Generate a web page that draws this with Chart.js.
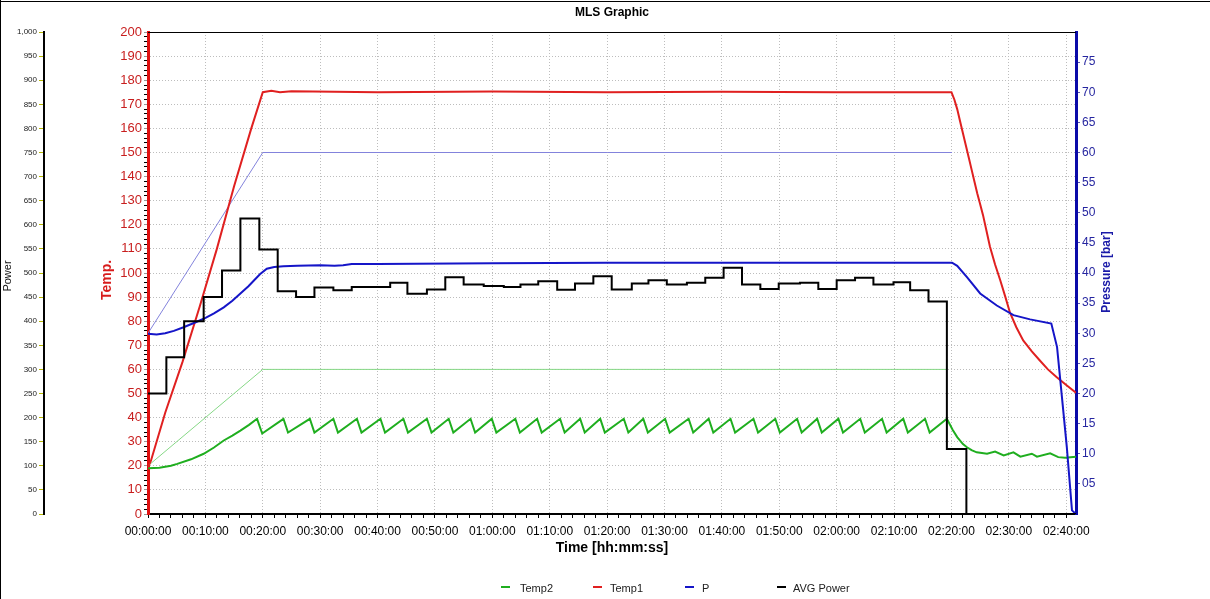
<!DOCTYPE html>
<html>
<head>
<meta charset="utf-8">
<title>MLS Graphic</title>
<script src="https://cdn.jsdelivr.net/npm/chart.js@4.4.1/dist/chart.umd.min.js"></script>
<style>
    body { margin: 0; background: #fff; }
    #wrap { position: relative; width: 1210px; height: 599px; }
    #legend { position: absolute; left: 0; top: 580px; width: 1210px; height: 16px;
        font: 11px "Liberation Sans", Arial, sans-serif; color: #222; }
    .item { position: absolute; top: 0; height: 16px; line-height: 16px; white-space: nowrap; }
    .item i { position: absolute; top: 6px; left: 0; width: 9px; height: 2px; }
</style>
</head>
<body>
<div id="wrap">
    <canvas id="mls" width="1210" height="599"></canvas>
    <div id="legend"></div>
</div>
<script>
// time axis in minutes
const X_MAX = 161.7;

// Temp1 (°C)
const temp1Minutes = [0, 0.5, 3, 6, 9, 12, 15, 18, 20, 21.5, 23, 25, 40, 60, 80, 100, 120, 140,
    140.5, 141, 141.5, 142, 142.5, 143, 143.5, 144, 144.5, 145, 145.5, 146.1, 146.7, 147.6, 148.5,
    149.4, 150.2, 151.3, 152.5, 154, 155.4, 156.8, 158.3, 160, 161.7];
const temp1Values = [19.5, 22, 42, 63, 86, 110, 136, 160, 175, 175.6, 175, 175.4, 175, 175.3, 175, 175.2, 175, 175,
    172, 168, 163, 158, 153, 148, 143, 138, 133, 128.5, 124, 117.5, 111, 103.5, 97,
    90, 83.5, 77.5, 72, 67.5, 63.7, 60, 56.8, 53.5, 50.3];

// Temp2 (°C)
const temp2Minutes = [0, 2, 4, 5.1, 7.5, 9.7, 11.5, 13.2, 14.7, 16.1, 17.6, 19.0, 19.9,
    23.6, 24.4, 28.2, 29.0, 32.3, 33.1, 36.4, 37.2, 40.5, 41.3, 44.5, 45.3, 48.6, 49.4,
    52.4, 53.2, 56.2, 57.0, 59.9, 60.7, 64.0, 64.8, 67.8, 68.6, 71.8, 72.6, 75.3, 76.1,
    78.8, 79.6, 82.9, 83.7, 86.3, 87.1, 90.1, 90.9, 94.2, 95.0, 97.7, 98.5, 101.5, 102.3,
    105.5, 106.3, 109.3, 110.1, 113.1, 113.9, 116.6, 117.4, 120.3, 121.1, 124.1, 124.9,
    127.9, 128.7, 131.6, 132.4, 135.4, 136.2, 139.2,
    140.2, 141, 142, 142.7, 143.5, 144.4, 146.2, 147.6, 149.1, 150.8, 152, 154, 154.9,
    157.2, 158.6, 159.8, 161.7];
const temp2Values = [19, 19.2, 20, 20.8, 22.7, 25, 27.6, 30.5, 32.5, 34.6, 37, 39.5, 33.4,
    39.5, 33.8, 39.5, 33.8, 39.5, 33.8, 39.5, 33.8, 39.5, 33.8, 39.5, 33.8, 39.5, 33.8,
    39.5, 33.8, 39.5, 33.8, 39.5, 33.8, 39.5, 33.8, 39.5, 33.8, 39.5, 33.8, 39.5, 33.8,
    39.5, 33.8, 39.5, 33.8, 39.5, 33.8, 39.5, 33.8, 39.5, 33.8, 39.5, 33.8, 39.5, 33.8,
    39.5, 33.8, 39.5, 33.8, 39.5, 33.8, 39.5, 33.8, 39.5, 33.8, 39.5, 33.8,
    39.5, 33.8, 39.5, 33.8, 39.5, 33.8, 39.5,
    35, 31.9, 29, 27.7, 26.5, 25.6, 25, 25.9, 24.3, 25.6, 23.8, 25, 23.8,
    25.2, 23.6, 23.3, 23.8];

// P (bar)
const pressureMinutes = [0, 1.5, 3, 4.5, 6.2, 8, 9.7, 11.5, 13.2, 14.7, 16.1, 17.5, 18.5, 19.5, 20.7, 22,
    23.6, 26, 30, 32.5, 34, 35.5, 40, 60, 80, 100, 120, 140.1, 141, 142.7, 145, 147.9, 150.8,
    153.7, 157.4, 158.4, 160.1, 161, 161.7];
const pressureValues = [29.9, 29.8, 30, 30.4, 31, 31.7, 32.4, 33.3, 34.3, 35.4, 36.6, 37.8, 38.8, 39.8, 40.7, 41,
    41.1, 41.2, 41.3, 41.2, 41.3, 41.5, 41.5, 41.6, 41.7, 41.7, 41.7, 41.7, 41.2, 39.3, 36.6, 34.6, 33,
    32.3, 31.6, 27.7, 11.1, 0.6, 0];

// AVG Power (W): each entry is the time a new level starts
const powerMinutes = [0, 3.2, 6.3, 9.7, 12.9, 16.1, 19.4, 22.6, 25.8, 29.0, 32.3, 35.5, 42.2, 45.2,
    48.6, 51.8, 55.0, 58.5, 62.0, 64.9, 68.0, 71.3, 74.4, 77.6, 80.8, 84.3, 87.2, 90.4, 93.9,
    97.1, 100.3, 103.5, 106.7, 109.9, 113.6, 116.8, 120.0, 123.2, 126.4, 129.9, 132.8, 136.0,
    139.2, 142.6, 161.7];
const powerValues = [250, 325, 400, 450, 505, 613, 549, 462, 450, 470, 464, 471, 480, 457,
    466, 491, 476, 473, 471, 476, 483, 465, 478, 493, 466, 478, 485, 476, 480,
    490, 511, 476, 467, 478, 480, 467, 485, 490, 476, 481, 464, 441,
    135, 0, 0];

// set point ramps
const pressureSetMinutes = [0, 20, 140.1];
const pressureSetValues = [30, 60, 60];
const tempSetMinutes = [0, 20, 139.2];
const tempSetValues = [20, 60, 60];

const legendItems = [
    { label: "Temp2", color: "#1fae1f", marker: 501, text: 520 },
    { label: "Temp1", color: "#e02020", marker: 593, text: 610 },
    { label: "P", color: "#1515c8", marker: 685, text: 702 },
    { label: "AVG Power", color: "#000000", marker: 777, text: 793 }
];

const FONT = "'Liberation Sans', Arial, sans-serif";
const GRID_COLOR = "#bdbdbd";

function toPoints(xs, ys) {
    return xs.map((x, i) => ({ x, y: ys[i] }));
}

function pad2(n) {
    return String(n).padStart(2, "0");
}

function clockLabel(minutes) {
    const h = Math.floor(minutes / 60);
    const m = Math.round(minutes - h * 60);
    return `${pad2(h)}:${pad2(m)}:00`;
}

function isMultiple(value, step) {
    return Math.abs(value / step - Math.round(value / step)) < 1e-6;
}

// frame, plot top edge and rotated axis titles
const decorations = {
    id: "decorations",
    afterDraw(chart) {
        const { ctx, chartArea } = chart;

        ctx.save();
        ctx.fillStyle = "#000";
        ctx.fillRect(0, 1, chart.width, 1);
        ctx.fillRect(0, 0, 1, chart.height);

        ctx.strokeStyle = "#000";
        ctx.lineWidth = 1;
        ctx.beginPath();
        ctx.moveTo(chartArea.left, chartArea.top + 0.5);
        ctx.lineTo(chartArea.right, chartArea.top + 0.5);
        ctx.stroke();

        ctx.textAlign = "center";
        ctx.textBaseline = "middle";
        ctx.font = `bold 12px ${FONT}`;
        ctx.fillText("MLS Graphic", (chartArea.left + chartArea.right) / 2, 13);

        const vertical = (text, x, y, font, color) => {
            ctx.save();
            ctx.translate(x, y);
            ctx.rotate(-Math.PI / 2);
            ctx.font = font;
            ctx.fillStyle = color;
            ctx.fillText(text, 0, 0);
            ctx.restore();
        };

        vertical("Power", 8, 276, `11px ${FONT}`, "#111");
        vertical("Temp.", 107, 280, `bold 14px ${FONT}`, "#d81c1c");
        vertical("Pressure [bar]", 1107, 272, `bold 12px ${FONT}`, "#1a1aa8");
        ctx.restore();
    }
};

function lineSet(label, xs, ys, axis, color, width) {
    return {
        label,
        data: toPoints(xs, ys),
        yAxisID: axis,
        borderColor: color,
        backgroundColor: color,
        borderWidth: width,
        pointRadius: 0,
        fill: false
    };
}

const powerSet = lineSet("AVG Power", powerMinutes, powerValues, "power", "#000000", 2);
powerSet.stepped = "before";

const datasets = [
    powerSet,
    lineSet("P", pressureMinutes, pressureValues, "pressure", "#1515c8", 2),
    lineSet("Temp1", temp1Minutes, temp1Values, "temp", "#e02020", 2),
    lineSet("Temp2", temp2Minutes, temp2Values, "temp", "#1fae1f", 2),
    lineSet("P set", pressureSetMinutes, pressureSetValues, "pressure", "#8383dc", 1),
    lineSet("Temp set", tempSetMinutes, tempSetValues, "temp", "#86d886", 1)
];

const chart = new Chart(document.getElementById("mls"), {
    type: "line",
    data: { datasets },
    plugins: [decorations],
    options: {
        responsive: false,
        animation: false,
        events: [],
        layout: { padding: { top: 32, left: 0, right: 0, bottom: 0 } },
        elements: { line: { tension: 0 } },
        plugins: {
            legend: { display: false },
            title: { display: false },
            tooltip: { enabled: false }
        },
        scales: {
            x: {
                type: "linear",
                position: "bottom",
                min: 0,
                max: X_MAX,
                afterFit: (scale) => { scale.height = 85; },
                ticks: {
                    stepSize: 2,
                    includeBounds: false,
                    autoSkip: false,
                    maxRotation: 0,
                    padding: 6,
                    color: "#000",
                    font: { family: FONT, size: 12 },
                    callback: (value) => (isMultiple(value, 10) ? clockLabel(value) : "")
                },
                grid: {
                    color: (ctx) => (ctx.tick && isMultiple(ctx.tick.value, 10) && ctx.tick.value > 0
                        ? GRID_COLOR : "transparent"),
                    tickColor: "#000",
                    tickLength: 4,
                    lineWidth: 1
                },
                border: { color: "#000", width: 2, dash: [1, 2] },
                title: {
                    display: true,
                    text: "Time [hh:mm:ss]",
                    color: "#000",
                    font: { family: FONT, size: 14, weight: "bold" },
                    padding: { top: 0, bottom: 42 }
                }
            },
            power: {
                type: "linear",
                position: "left",
                weight: 1,
                min: 0,
                max: 1000,
                afterFit: (scale) => { scale.width = 44; },
                ticks: {
                    stepSize: 50,
                    includeBounds: false,
                    autoSkip: false,
                    padding: 2,
                    color: "#222",
                    font: { family: FONT, size: 8 },
                    callback: (value) => value.toLocaleString("en-US")
                },
                grid: { drawOnChartArea: false, tickColor: "#b8b800", tickLength: 5 },
                border: { color: "#000", width: 2 }
            },
            temp: {
                type: "linear",
                position: "left",
                weight: 0,
                min: 0,
                max: 200,
                afterFit: (scale) => { scale.width = 104; },
                ticks: {
                    stepSize: 2,
                    includeBounds: false,
                    autoSkip: false,
                    padding: 2,
                    color: "#c81e1e",
                    font: { family: FONT, size: 13 },
                    callback: (value) => (isMultiple(value, 10) ? String(value) : "")
                },
                grid: {
                    color: (ctx) => (ctx.tick && isMultiple(ctx.tick.value, 10) && ctx.tick.value > 0 && ctx.tick.value < 200
                        ? GRID_COLOR : "transparent"),
                    tickColor: (ctx) => (ctx.tick && isMultiple(ctx.tick.value, 10) ? "#999" : "#000"),
                    tickLength: 4,
                    lineWidth: 1
                },
                border: { color: "#e01010", width: 3, dash: [1, 2] }
            },
            pressure: {
                type: "linear",
                position: "right",
                min: 0,
                max: 80,
                afterFit: (scale) => { scale.width = 134; },
                ticks: {
                    stepSize: 5,
                    includeBounds: false,
                    autoSkip: false,
                    padding: 2,
                    color: "#2626a0",
                    font: { family: FONT, size: 12 },
                    callback: (value) => (value === 0 || value === 80 ? "" : pad2(value))
                },
                grid: {
                    drawOnChartArea: false,
                    tickColor: (ctx) => (ctx.tick && (ctx.tick.value === 0 || ctx.tick.value === 80)
                        ? "transparent" : "#5a5ab4"),
                    tickLength: 4
                },
                border: { color: "#0a0aa8", width: 3 }
            }
        }
    }
});

const legend = document.getElementById("legend");
legendItems.forEach((item) => {
    const marker = document.createElement("div");
    marker.className = "item";
    marker.style.left = item.marker + "px";
    marker.innerHTML = `<i style="background:${item.color}"></i>`;
    legend.appendChild(marker);

    const text = document.createElement("div");
    text.className = "item";
    text.style.left = item.text + "px";
    text.textContent = item.label;
    legend.appendChild(text);
});
</script>
</body>
</html>
